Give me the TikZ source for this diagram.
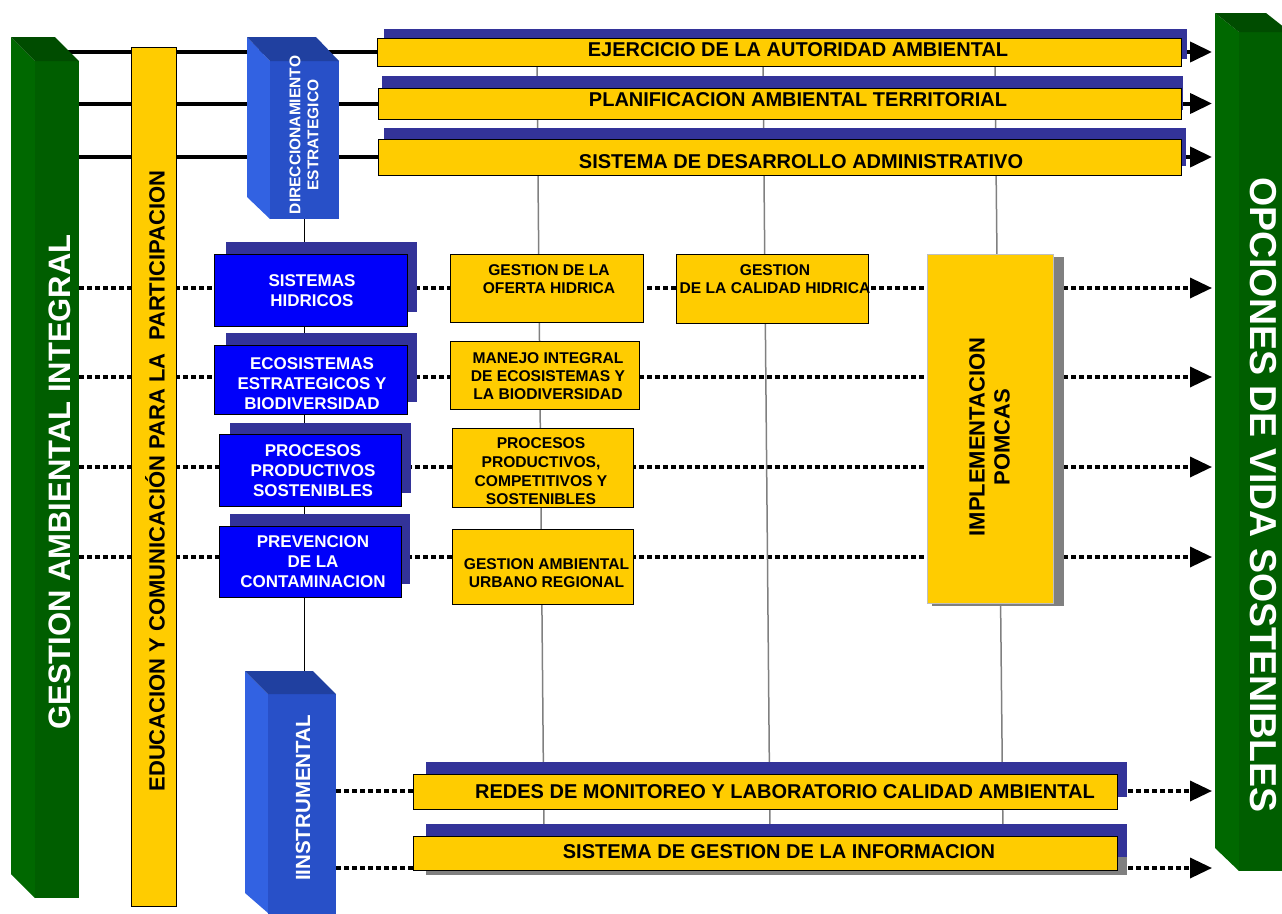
\documentclass[tikz,border=0pt]{standalone}
\usepackage{fontspec}
\setmainfont{Liberation Sans}
\usetikzlibrary{arrows.meta,fit,backgrounds}
\definecolor{ycol}{RGB}{255,204,0}
\definecolor{shblue}{RGB}{51,51,153}
\definecolor{bboxc}{RGB}{0,0,250}
\definecolor{gLface}{RGB}{0,104,0}
\definecolor{gFront}{RGB}{0,94,0}
\definecolor{gTop}{RGB}{0,76,0}
\definecolor{bLface}{RGB}{50,98,226}
\definecolor{bFront}{RGB}{40,80,200}
\definecolor{bTop}{RGB}{32,64,160}
\definecolor{glin}{RGB}{128,128,128}
\tikzset{
  ybox/.style={draw=black, line width=1pt, fill=ycol, inner sep=0pt},
  bbx/.style={draw=black, line width=1pt, fill=bboxc, inner sep=0pt},
  shb/.style={fill=shblue},
  ghost/.style={inner sep=0pt, draw=none},
  thickln/.style={line width=4pt, black},
  dotln/.style={line width=3.5pt, black, dash pattern=on 5pt off 3pt},
  tipped/.style={-{Triangle[length=22pt,width=20pt]}},
  grayln/.style={line width=1.5pt, glin},
  blkln/.style={line width=1.5pt, black},
  btxt/.style={text=white, font=\fontsize{17}{20}\selectfont\bfseries, align=center, inner sep=0pt},
  ytxt/.style={text=black, font=\fontsize{15.6}{18}\selectfont\bfseries, align=center, inner sep=0pt},
  bartxt/.style={text=black, font=\fontsize{20}{24}\selectfont\bfseries, inner sep=0pt, anchor=base},
}
\begin{document}
\begin{tikzpicture}[x=1pt,y=-1pt]
\useasboundingbox (0,0) rectangle (1282,913);
\clip (0,0) rectangle (1282,913);

% reference nodes / coordinates
\node[ghost, fit={(35,61) (79,898)}] (gleft) {};
\node[ghost, fit={(270,61) (339,219)}] (dir) {};
\node[ghost, fit={(268,694) (336,913)}] (instr) {};
\coordinate (rtip) at (1212,0);
\coordinate (r1) at (0,288);
\coordinate (r2) at (0,377);
\coordinate (r3) at (0,467);
\coordinate (r4) at (0,557);
\coordinate (r5) at (0,791);
\coordinate (r6) at (0,868);
\coordinate (g1t) at (537,66);  \coordinate (g1b) at (544,836);
\coordinate (g2t) at (763,66);  \coordinate (g2b) at (770,836);
\coordinate (g3t) at (995,66);  \coordinate (g3b) at (1003,836);

% --- left green prism ---
\fill[gLface] (11,37) -- (35,61) -- (35,898) -- (11,874) -- cycle;
\fill[gFront] (35,61) rectangle (79,898);
\fill[gTop] (11,37) -- (55,37) -- (79,61) -- (35,61) -- cycle;

% --- right green prism ---
\fill[gLface] (1215,13) -- (1239,32) -- (1239,871) -- (1215,848) -- cycle;
\fill[gFront] (1239,32) rectangle (1290,871);
\fill[gTop] (1215,13) -- (1266,13) -- (1290,32) -- (1239,32) -- cycle;

% --- top shadows & bars ---
\fill[shb] (384,29) rectangle (1187,59);
\fill[shb] (382,76) rectangle (1183,110);
\fill[shb] (384,128) rectangle (1186,166);
\node[ybox, fit={(377,38) (1181,66)}] (b1) {};
\node[ybox, fit={(378,88) (1181,119)}] (b2) {};
\node[ybox, fit={(378,139) (1181,175)}] (b3) {};

% --- education bar ---
\node[ybox, fit={(131,47) (176,906)}] (edu) {};

% --- blue prism: direccionamiento ---
\fill[bLface] (247,37) -- (270,61) -- (270,219) -- (247,197) -- cycle;
\fill[bFront] (270,61) rectangle (339,219);
\fill[bTop] (247,37) -- (316,37) -- (339,61) -- (270,61) -- cycle;

% --- blue prism: instrumental ---
\fill[bLface] (245,671) -- (268,694) -- (268,913) -- (245,893) -- cycle;
\fill[bFront] (268,694) rectangle (336,920);
\fill[bTop] (245,671) -- (313,671) -- (336,694) -- (268,694) -- cycle;

% --- blue boxes ---
\fill[shb] (226,242) rectangle (417,312);
\fill[shb] (226,333) rectangle (417,402);
\fill[shb] (230,423) rectangle (411,493);
\fill[shb] (230,514) rectangle (410,584);
\node[bbx, fit={(214,254) (407,326)}] (bb1) {};
\node[bbx, fit={(214,345) (407,414)}] (bb2) {};
\node[bbx, fit={(219,434) (401,506)}] (bb3) {};
\node[bbx, fit={(219,526) (401,597)}] (bb4) {};

% --- yellow boxes ---
\node[ybox, fit={(450,254) (643,322)}] (y1) {};
\node[ybox, fit={(450,341) (639,409)}] (y2) {};
\node[ybox, fit={(452,428) (633,507)}] (y3) {};
\node[ybox, fit={(452,529) (633,604)}] (y4) {};
\node[ybox, fit={(676,254) (868,323)}] (y5) {};

% --- POMCAS ---
\fill[glin] (932,257) rectangle (1064,606);
\node[ybox, draw=black!25, fit={(927,254) (1053,603)}] (pom) {};

% --- bottom bars ---
\fill[shb] (426,762) rectangle (1127,797);
\fill[glin] (426,840) rectangle (1127,875);
\fill[shb] (426,824) rectangle (1127,857);
\node[ybox, fit={(413,774) (1117,809)}] (rb1) {};
\node[ybox, fit={(413,836) (1117,870)}] (rb2) {};

% --- connectors, behind everything ---
\begin{pgfonlayer}{background}
\draw[dotln, tipped] (gleft.east |- r1) -- (rtip |- r1);
\draw[dotln, tipped] (gleft.east |- r2) -- (rtip |- r2);
\draw[dotln, tipped] (gleft.east |- r3) -- (rtip |- r3);
\draw[dotln, tipped] (gleft.east |- r4) -- (rtip |- r4);
\draw[dotln, tipped] (instr.east |- r5) -- (rtip |- r5);
\draw[dotln, tipped] (instr.east |- r6) -- (rtip |- r6);
\draw[grayln] (g1t) -- (g1b);
\draw[grayln] (g2t) -- (g2b);
\draw[grayln] (g3t) -- (g3b);
\draw[blkln] (dir.south) -- (dir.south |- instr.north);
\draw[thickln] (gleft.center |- b1.west) -- (b1.west);
\draw[thickln] (gleft.center |- b2.west) -- (b2.west);
\draw[thickln] (gleft.center |- b3.west) -- (b3.west);
\draw[thickln, tipped] (b1.east) -- (b1.east -| rtip);
\draw[thickln, tipped] (b2.east) -- (b2.east -| rtip);
\draw[thickln, tipped] (b3.east) -- (b3.east -| rtip);
\end{pgfonlayer}

% --- texts ---
\node[bartxt] (t1) at (798,56) {EJERCICIO DE LA AUTORIDAD AMBIENTAL};
\node[bartxt] (t2) at (798,106) {PLANIFICACION AMBIENTAL TERRITORIAL};
\node[bartxt] (t3) at (801,168) {SISTEMA DE DESARROLLO ADMINISTRATIVO};
\node[bartxt] (t4) at (785,798) {REDES DE MONITOREO Y LABORATORIO CALIDAD AMBIENTAL};
\node[bartxt] (t5) at (779,858) {SISTEMA DE GESTION DE LA INFORMACION};

\node[btxt] (s1) at (312,291) {SISTEMAS\\HIDRICOS};
\node[btxt] (s2) at (312,384) {ECOSISTEMAS\\ESTRATEGICOS Y\\BIODIVERSIDAD};
\node[btxt] (s3) at (313,471) {PROCESOS\\PRODUCTIVOS\\SOSTENIBLES};
\node[btxt] (s4) at (313,562) {PREVENCION\\DE LA\\CONTAMINACION};

\node[ytxt] (o1) at (549,279.5) {GESTION DE LA\\OFERTA HIDRICA};
\node[ytxt] (o2) at (548,375.7) {MANEJO INTEGRAL\\DE ECOSISTEMAS Y\\LA BIODIVERSIDAD};
\node[ytxt, font=\fontsize{15.6}{18.7}\selectfont\bfseries] (o3) at (541,471.5) {PROCESOS\\PRODUCTIVOS,\\COMPETITIVOS Y\\SOSTENIBLES};
\node[ytxt] (o4) at (546.5,573.5) {GESTION AMBIENTAL\\URBANO REGIONAL};
\node[ytxt] (o5) at (775,279.5) {GESTION\\DE LA CALIDAD HIDRICA};

\node[rotate=90, text=black, font=\fontsize{22}{25}\selectfont\bfseries, align=center, inner sep=0pt] (ptxt) at (989.5,437) {IMPLEMENTACION\\POMCAS};

\node[rotate=90, text=white, font=\fontsize{31}{36}\selectfont\bfseries, inner sep=0pt] (gtxt) at (60,482) {GESTION AMBIENTAL INTEGRAL};
\node[rotate=-90, text=white, font=\fontsize{37.5}{42}\selectfont\bfseries, inner sep=0pt] (otxt) at (1263,495) {OPCIONES DE VIDA SOSTENIBLES};
\node[rotate=90, text=black, font=\fontsize{22}{26}\selectfont\bfseries, inner sep=0pt] (etxt) at (155,481) {EDUCACION Y COMUNICACIÓN PARA LA\ \ PARTICIPACION};
\node[rotate=90, text=white, font=\fontsize{15.5}{18}\selectfont\bfseries, align=center, inner sep=0pt] (dtxt) at (304,135) {DIRECCIONAMIENTO\\ESTRATEGICO};
\node[rotate=90, text=white, font=\fontsize{20.5}{24}\selectfont\bfseries, inner sep=0pt] (itxt) at (303,798) {IINSTRUMENTAL};
\end{tikzpicture}
\end{document}
